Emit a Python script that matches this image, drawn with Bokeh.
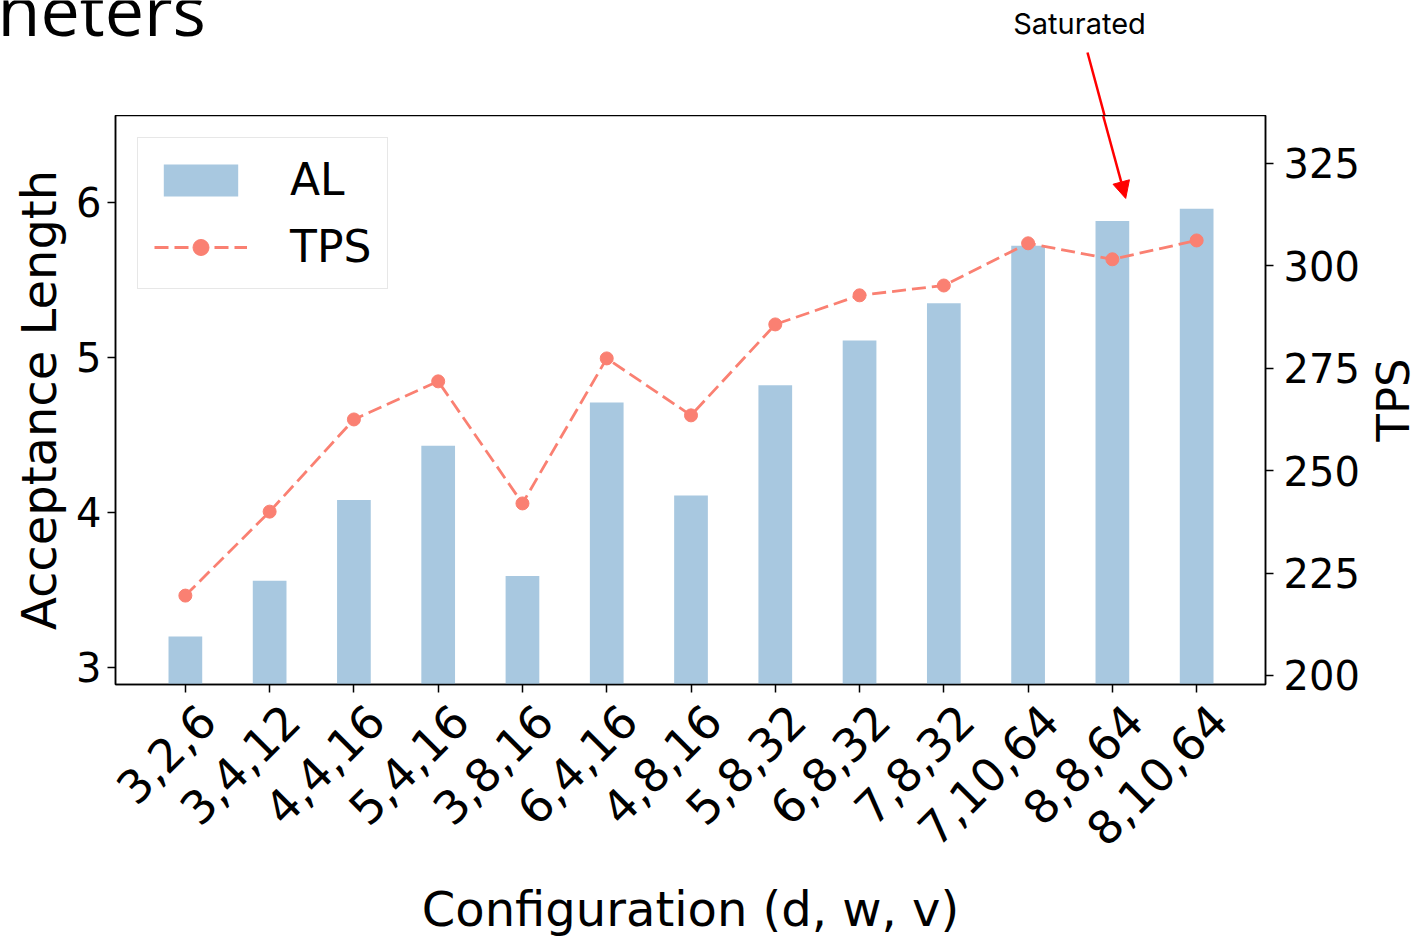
import math
from bokeh.plotting import figure
from bokeh.layouts import row
from bokeh.models import (Range1d, LinearAxis, FixedTicker, CustomJSTickFormatter, Arrow,
                          NormalHead, ColumnDataSource)
from bokeh.core.properties import value
from bokeh.embed import file_html
from bokeh.resources import INLINE

configs = ["3,2,6", "3,4,12", "4,4,16", "5,4,16", "3,8,16", "6,4,16", "4,8,16",
           "5,8,32", "6,8,32", "7,8,32", "7,10,64", "8,8,64", "8,10,64"]
al = [3.20, 3.56, 4.08, 4.43, 3.59, 4.71, 4.11, 4.82, 5.11, 5.35, 5.72, 5.88, 5.96]
tps = [219.5, 240.0, 262.5, 271.8, 242.0, 277.4, 263.5, 285.7, 292.8, 295.2, 305.5, 301.6, 306.2]
al_ticks = [3, 4, 5, 6]
tps_ticks = [200, 225, 250, 275, 300, 325]

idx = list(range(len(configs)))
src = ColumnDataSource(dict(x=idx, al=al, tps=tps))
tick_labels = {i: c for i, c in zip(idx, configs)}

BAR = "#a8c8e0"
LINE = "#fa8072"
FONT = "DejaVu Sans"

# ---- top strip: slide title fragment and annotation text ----
top = figure(width=1419, height=115, output_backend="svg", toolbar_location=None,
             x_range=Range1d(0, 1419), y_range=Range1d(115, 0),
             x_axis_location=None, y_axis_location=None, min_border=0,
             outline_line_color=None)
top.grid.visible = False
top.text(x=[-3], y=[8], text=["neters"], text_font=value("Open Sans"),
         text_font_size="70px", text_color="black", text_align="left",
         text_baseline="alphabetic")
top.text(x=[1079], y=[22.5], text=["Saturated"], text_font=value("Inter"),
         text_font_size="29px", text_color="black", text_align="center",
         text_baseline="alphabetic")
top.segment(x0=[1087], y0=[52], x1=[1104.3], y1=[116], line_color="red", line_width=2.5)

# ---- main chart ----
y0, y1 = 2.89, 6.561
x0, x1 = -0.829, 12.817
shift = 0.26
p = figure(width=1362, height=824, output_backend="svg", toolbar_location=None,
           x_range=Range1d(x0, x1), y_range=Range1d(y0, y1),
           min_border_left=115, min_border_right=95, min_border_top=0,
           min_border_bottom=255)
p.extra_y_ranges = {"tps": Range1d(197.8, 336.7)}
p.extra_x_ranges = {"lbl": Range1d(x0 - shift, x1 - shift)}
p.xgrid.visible = False
p.ygrid.visible = False
p.outline_line_color = "black"
p.outline_line_width = 1.5
p.outline_line_alpha = 1.0
p.background_fill_color = "white"
p.border_fill_color = "white"

bars = p.vbar(x="x", top="al", bottom=0, width=0.4, source=src, fill_color=BAR,
              line_color=None, legend_label="AL")
ln = p.line(x="x", y="tps", source=src, y_range_name="tps", line_color=LINE,
            line_width=2.8, line_dash="14 6", legend_label="TPS")
pts = p.scatter(x="x", y="tps", source=src, y_range_name="tps", size=13,
                fill_color=LINE, line_color=LINE, legend_label="TPS")

def style_axis(ax):
    ax.major_label_text_font = FONT
    ax.major_label_text_font_size = "40px"
    ax.major_label_text_color = "black"
    ax.axis_label_text_font = FONT
    ax.axis_label_text_font_size = "48px"
    ax.axis_label_text_font_style = "normal"
    ax.axis_label_text_color = "black"
    ax.major_tick_out = 8
    ax.major_tick_in = 0
    ax.minor_tick_out = 0
    ax.minor_tick_in = 0
    ax.axis_line_width = 1.5
    ax.major_tick_line_width = 1.5
    ax.axis_line_color = "black"
    ax.major_tick_line_color = "black"

# left axis
ly = p.yaxis[0]
ly.ticker = FixedTicker(ticks=al_ticks)
ly.axis_label = "Acceptance Length"
style_axis(ly)
ly.major_label_standoff = 6
ly.axis_label_standoff = 6

# right axis (its title is drawn in the narrow strip to the right)
ry = LinearAxis(y_range_name="tps", ticker=FixedTicker(ticks=tps_ticks))
style_axis(ry)
ry.major_label_standoff = 10
p.add_layout(ry, "right")

# bottom axis: tick marks only
bx = p.xaxis[0]
style_axis(bx)
bx.ticker = FixedTicker(ticks=idx)
bx.formatter = CustomJSTickFormatter(code="return ''")
bx.major_label_text_font_size = "0px"
bx.major_label_standoff = 0

# bottom axis: rotated configuration labels and the axis title
lx = LinearAxis(x_range_name="lbl", ticker=FixedTicker(ticks=idx))
style_axis(lx)
lx.major_label_overrides = tick_labels
lx.major_label_orientation = math.pi / 4
lx.major_label_text_font_size = "46px"
lx.major_tick_out = 0
lx.axis_line_color = None
lx.major_tick_line_color = None
lx.major_label_standoff = 20
lx.axis_label = "Configuration (d, w, v)"
lx.axis_label_standoff = 17
p.add_layout(lx, "below")

# legend
lg = p.legend[0]
lg.location = "top_left"
lg.label_text_font = FONT
lg.label_text_font_size = "44px"
lg.label_text_color = "black"
lg.glyph_width = 93
lg.glyph_height = 40
lg.label_standoff = 43
lg.padding = 16
lg.spacing = 16
lg.margin = 22
lg.border_line_color = "#d0d0d0"
lg.border_line_width = 1.5
lg.background_fill_alpha = 0.85

# arrow head part inside the frame
p.add_layout(Arrow(end=NormalHead(size=17, fill_color="red", line_color="red"),
                   x_start=10.890, y_start=y1, x_end=11.158, y_end=6.026,
                   line_color="red", line_width=2.5))

# ---- narrow strip holding the right axis title, read bottom to top ----
side = figure(width=57, height=824, output_backend="svg", toolbar_location=None,
              x_range=Range1d(0, 57), y_range=Range1d(0, 1),
              x_axis_location=None, y_axis_location=None,
              min_border_left=0, min_border_right=0, min_border_top=0,
              min_border_bottom=255, outline_line_color=None)
side.grid.visible = False
side.text(x=[31], y=[0.5], text=["TPS"], angle=math.pi / 2, text_font=value(FONT),
          text_font_size="45px", text_color="black", text_align="center",
          text_baseline="middle")

open("out.html", "w").write(file_html([top, row(p, side, spacing=0)], INLINE))
